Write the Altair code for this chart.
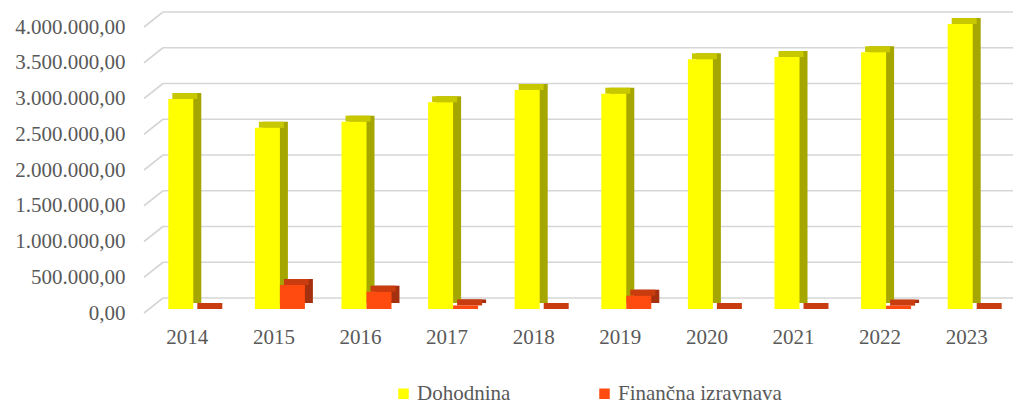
import altair as alt
import pandas as pd

years = ["2014", "2015", "2016", "2017", "2018", "2019", "2020", "2021", "2022", "2023"]
dohodnina = [2937000, 2536000, 2620000, 2891000, 3063000, 3011000, 3492000, 3524000, 3590000, 3986000]
financna = [0, 336000, 242000, 50000, 0, 186000, 0, 0, 47000, 0]
series_names = ["Dohodnina", "Finančna izravnava"]
y_ticks = [0, 500000, 1000000, 1500000, 2000000, 2500000, 3000000, 3500000, 4000000]

FONT = "Liberation Serif"
TXT = "#595959"
front_colors = ["#FFFF00", "#FF4A10"]
side_colors = ["#A6A600", "#A53010"]
top_colors = ["#C8C800", "#C83C10"]
centers = [-6.5, 18.5]
BW = 25

rows = []
for i, y in enumerate(years):
    rows.append({"year": y, "series": series_names[0], "value": dohodnina[i]})
    rows.append({"year": y, "series": series_names[1], "value": financna[i]})
df = pd.DataFrame(rows)
grid_df = pd.DataFrame({"value": y_ticks})

W, H = 866, 286

xscale = alt.Scale(type="band", domain=years, paddingInner=0, paddingOuter=0)
yscale = alt.Scale(domain=[0, 4000000], nice=False)

x_enc = alt.X("year:N", scale=xscale,
              axis=alt.Axis(title=None, labelAngle=0, ticks=False, domain=False, grid=False,
                            labelPadding=17, labelFont=FONT, labelFontSize=21, labelColor=TXT))
label_expr = ("replace(replace(replace(format(datum.value, ',.2f'), regexp(',', 'g'), '#'),"
              " regexp('[.]', 'g'), ','), regexp('#', 'g'), '.')")
y_axis = alt.Axis(title=None, values=y_ticks, ticks=False, domain=False, grid=False,
                  labelPadding=19, labelOffset=4, labelExpr=label_expr,
                  labelFont=FONT, labelFontSize=21, labelColor=TXT)
y_enc = alt.Y("value:Q", scale=yscale, axis=y_axis)

grid_back = alt.Chart(grid_df).mark_rule(color="#d6d6d6", strokeWidth=1.6, yOffset=-11).encode(
    x=alt.value(19), x2=alt.value(W + 3), y=y_enc)
grid_diag = alt.Chart(grid_df).mark_rule(color="#d6d6d6", strokeWidth=1.6, yOffset=4, y2Offset=-11).encode(
    x=alt.value(0), x2=alt.value(19), y=y_enc, y2=alt.Y2("value"))

layers = [grid_back, grid_diag]
for k, s in enumerate(series_names):
    base = alt.Chart(df).transform_filter(alt.datum.series == s)
    c = centers[k]
    side = base.mark_bar(width=BW, xOffset=c + 8, yOffset=-6, y2Offset=-3, color=side_colors[k]).encode(
        x=x_enc, y=y_enc)
    top = base.mark_tick(size=BW, thickness=6, xOffset=c + 4, yOffset=-3, color=top_colors[k], opacity=1).encode(
        x=x_enc, y=y_enc)
    layers += [side, top]

for k, s in enumerate(series_names):
    base = alt.Chart(df).transform_filter(alt.datum.series == s)
    front = base.mark_bar(width=BW, xOffset=centers[k]).encode(
        x=x_enc, y=y_enc,
        color=alt.Color("series:N",
                        scale=alt.Scale(domain=series_names, range=front_colors),
                        legend=alt.Legend(title=None, orient="none", legendX=249, legendY=360,
                                          direction="horizontal", symbolType="square", symbolSize=110,
                                          symbolStrokeWidth=0, labelFont=FONT, labelFontSize=21,
                                          labelColor=TXT, labelLimit=300, columnPadding=83,
                                          labelOffset=3)))
    layers.append(front)

chart = alt.layer(*layers).properties(
    width=W, height=H,
    autosize=alt.AutoSizeParams(type="none"),
    padding={"left": 136, "top": 15, "right": 3, "bottom": 99},
).configure_view(strokeWidth=0).resolve_scale(color="shared")

chart.save("out.html", embed_options={"renderer": "svg", "actions": False})
